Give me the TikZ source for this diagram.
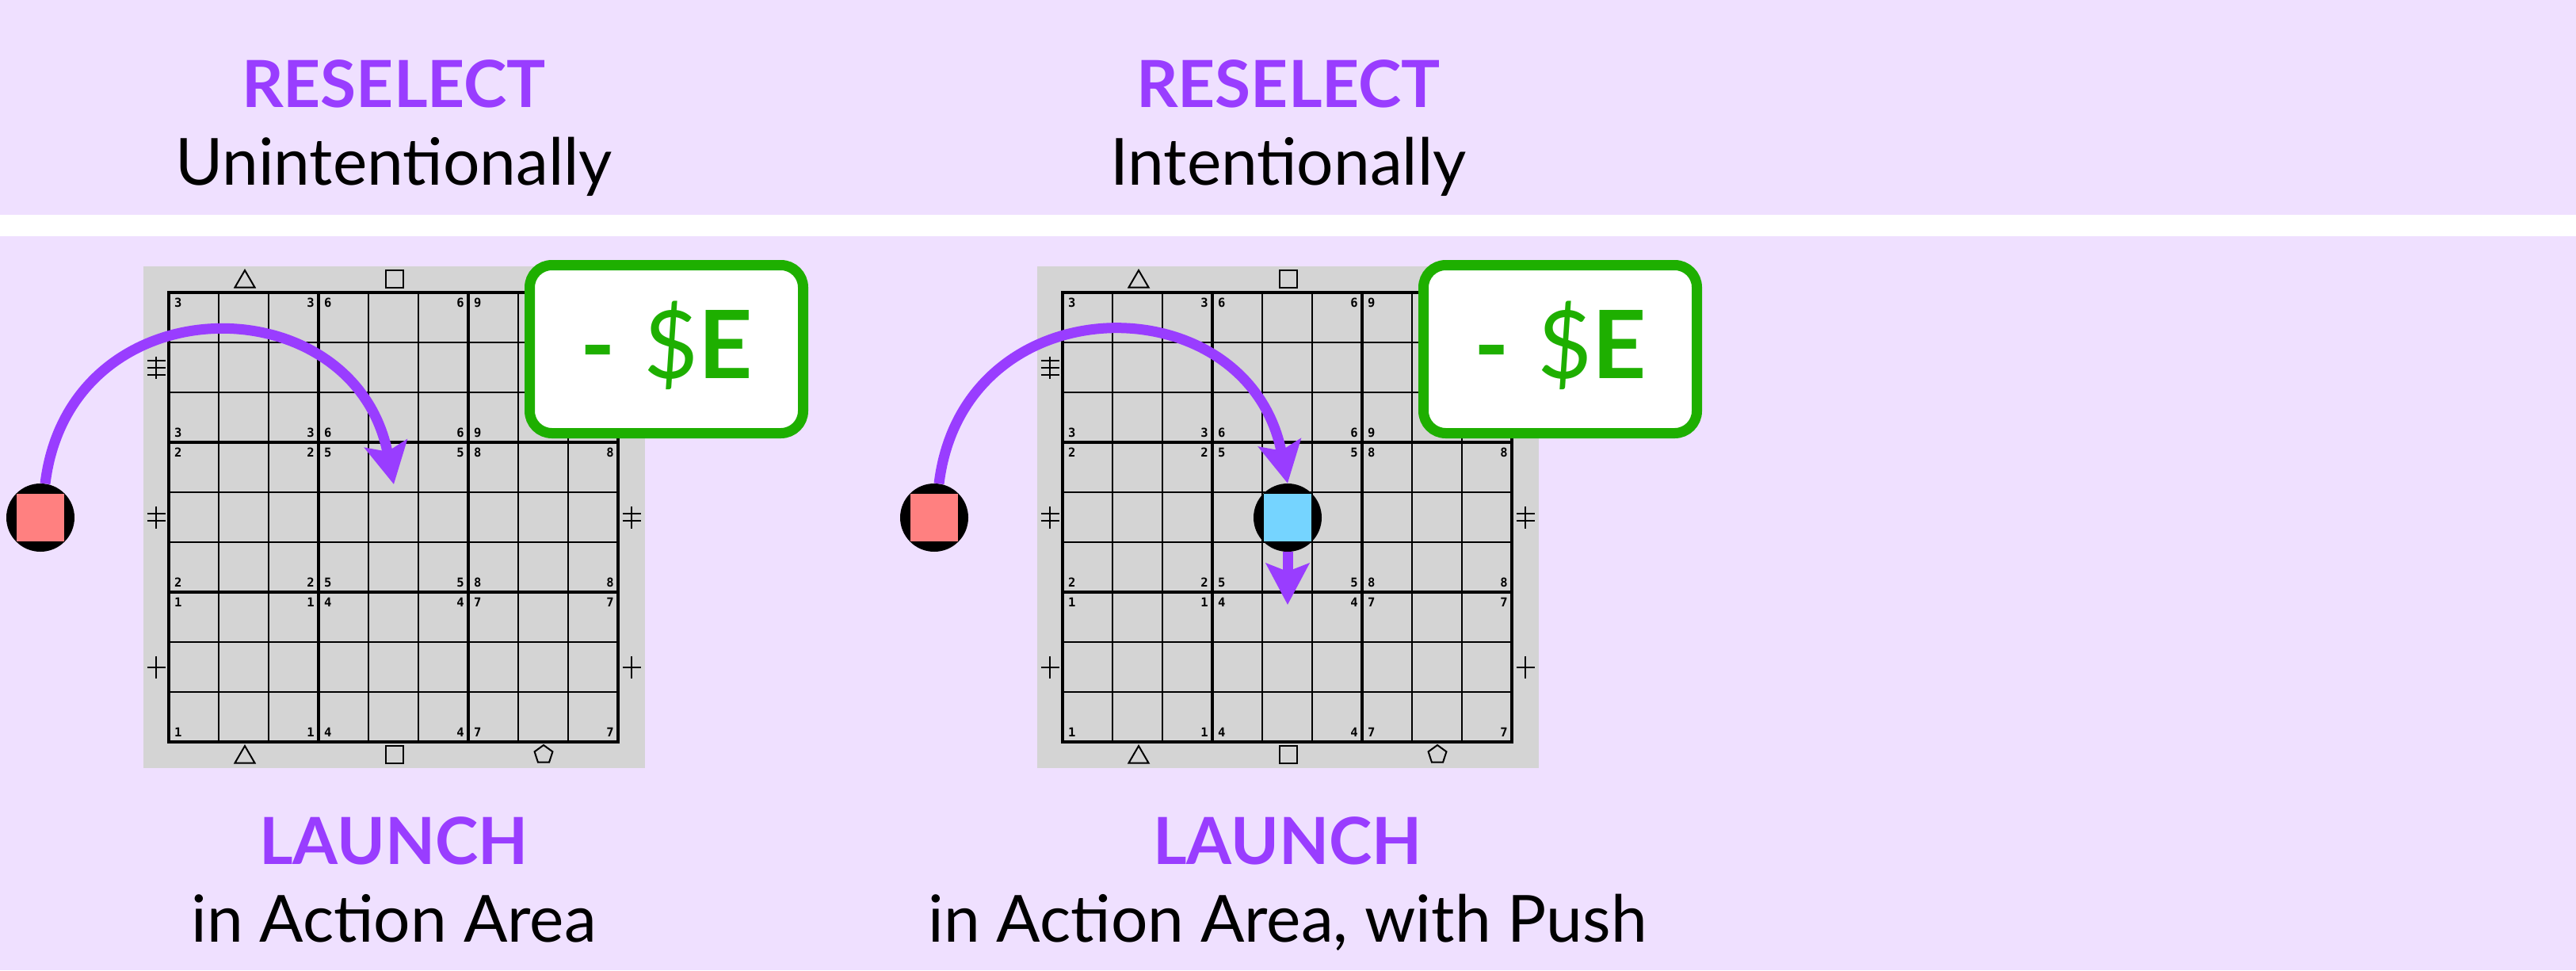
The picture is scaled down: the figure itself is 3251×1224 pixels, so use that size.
\documentclass[tikz,border=0pt]{standalone}
\usepackage{fontspec}
\setmainfont{Lato}
\newfontfamily\digitfont{DejaVu Sans Mono}
\usetikzlibrary{arrows.meta,calc}

\definecolor{lavender}{RGB}{239,224,255}
\definecolor{grape}{RGB}{153,61,255}
\definecolor{cashgreen}{RGB}{30,175,0}
\definecolor{boardgray}{RGB}{212,212,212}
\definecolor{redpiece}{RGB}{255,128,128}
\definecolor{bluepiece}{RGB}{117,212,255}

\tikzset{
  heading/.style={anchor=base,text=grape,font=\fontsize{82}{90}\selectfont\bfseries},
  subline/.style={anchor=base,font=\fontsize{82}{90}\selectfont},
  gridline/.style={line width=1.3pt},
  blockline/.style={line width=3.2pt,line cap=rect},
  glyph/.style={line width=2pt,line join=miter},
  corner/.style={inner sep=0pt,font=\digitfont\bfseries\fontsize{15.5}{15.5}\selectfont},
  piece/.style={circle,fill=black,minimum size=86pt,inner sep=0pt,
    path picture={\fill[#1] ([shift={(-30pt,-30pt)}]path picture bounding box.center) rectangle ++(60pt,60pt);}},
  move/.style={grape,line width=13pt,-{Stealth[length=52pt,width=54pt,inset=10pt]}},
  costtag/.style={draw=cashgreen,line width=13pt,fill=white,rounded corners=28pt,
    minimum width=345pt,minimum height=212pt,text=cashgreen,
    text height=85pt,text depth=12pt,font=\fontsize{119}{119}\selectfont}
}

% one board, #1 = horizontal offset
\newcommand{\drawboard}[1]{%
\begin{scope}[shift={(#1,0)}]
  \fill[boardgray] (181,336) rectangle (814,969);
  \foreach \k in {1,2,4,5,7,8}{
    \draw[gridline] ({213+63*\k},369) -- ({213+63*\k},936);
    \draw[gridline] (213,{369+63*\k}) -- (780,{369+63*\k});
  }
  \foreach \k in {0,3,6,9}{
    \draw[blockline] ({213+63*\k},369) -- ({213+63*\k},936);
    \draw[blockline] (213,{369+63*\k}) -- (780,{369+63*\k});
  }
  % corner numbers of the blocks
  \foreach \bc in {0,1,2}{
    \foreach \br in {0,1,2}{
      \pgfmathtruncatemacro{\n}{3*\bc+3-\br}
      \node[corner,anchor=north west] (n#1-\bc\br a) at ({220+189*\bc},{376+189*\br}) {\n};
      \node[corner,anchor=north east] (n#1-\bc\br b) at ({397+189*\bc},{376+189*\br}) {\n};
      \node[corner,anchor=south west] (n#1-\bc\br c) at ({220+189*\bc},{552+189*\br}) {\n};
      \node[corner,anchor=south east] (n#1-\bc\br d) at ({397+189*\bc},{552+189*\br}) {\n};
    }
  }
  % shapes above and below
  \foreach \y in {352,952}{
    \draw[glyph] (296.5,{\y+10.5}) -- (321.5,{\y+10.5}) -- (309,{\y-11}) -- cycle;
    \draw[glyph] (487,{\y-11}) rectangle (509,{\y+11});
    \draw[glyph] (686,\y) +(-90:12) -- +(-18:12) -- +(54:12) -- +(126:12) -- +(198:12) -- cycle;
  }
  % bar marks left and right
  \foreach \x in {197,797}{
    \foreach \y/\m in {463.5/3,652.5/2,841.5/1}{
      \draw[glyph] (\x,{\y-14}) -- (\x,{\y+14});
      \foreach \b in {1,...,\m}
        \draw[glyph] ({\x-11.5},{\y+9*(\b-(\m+1)/2)}) -- ({\x+11.5},{\y+9*(\b-(\m+1)/2)});
    }
  }
\end{scope}}

\begin{document}
\begin{tikzpicture}[x=1pt,y=-1pt]
  \useasboundingbox (0,0) rectangle (3251,1224);
  \fill[lavender] (0,0) rectangle (3251,1224);
  \fill[white] (0,271) rectangle (3251,298);

  \node[heading] (resel1) at (497,135) {RESELECT};
  \node[subline] (unint) at (497,233) {Unintentionally};
  \node[heading] (resel2) at (1626,135) {RESELECT};
  \node[subline] (inten) at (1626,233) {Intentionally};

  \drawboard{0}
  \drawboard{1128}

  \node[piece=redpiece] (red1) at (51,653) {};
  \node[piece=redpiece] (red2) at (1179,653) {};
  \node[piece=bluepiece] (blue) at (1625,653) {};
  \coordinate (drop1) at (497,611);
  \coordinate (push) at (1625,763);

  \draw[move] (red1.82) .. controls +(31,-255) and +(-50,-255) .. (drop1);
  \draw[move] (red2.82) .. controls +(31,-255) and +(-50,-255) .. (blue.north);
  \draw[move] (blue.south) -- (push);

  \node[costtag] (cost1) at (841,440.5) {\textbf{-}\hspace{0.3em}\$\textbf{E}};
  \node[costtag] (cost2) at (1969,440.5) {\textbf{-}\hspace{0.3em}\$\textbf{E}};

  \node[heading] (launch1) at (497,1090) {LAUNCH};
  \node[subline] (area1) at (497,1188) {in Action Area};
  \node[heading] (launch2) at (1625,1090) {LAUNCH};
  \node[subline] (area2) at (1625,1188) {in Action Area, with Push};
\end{tikzpicture}
\end{document}
